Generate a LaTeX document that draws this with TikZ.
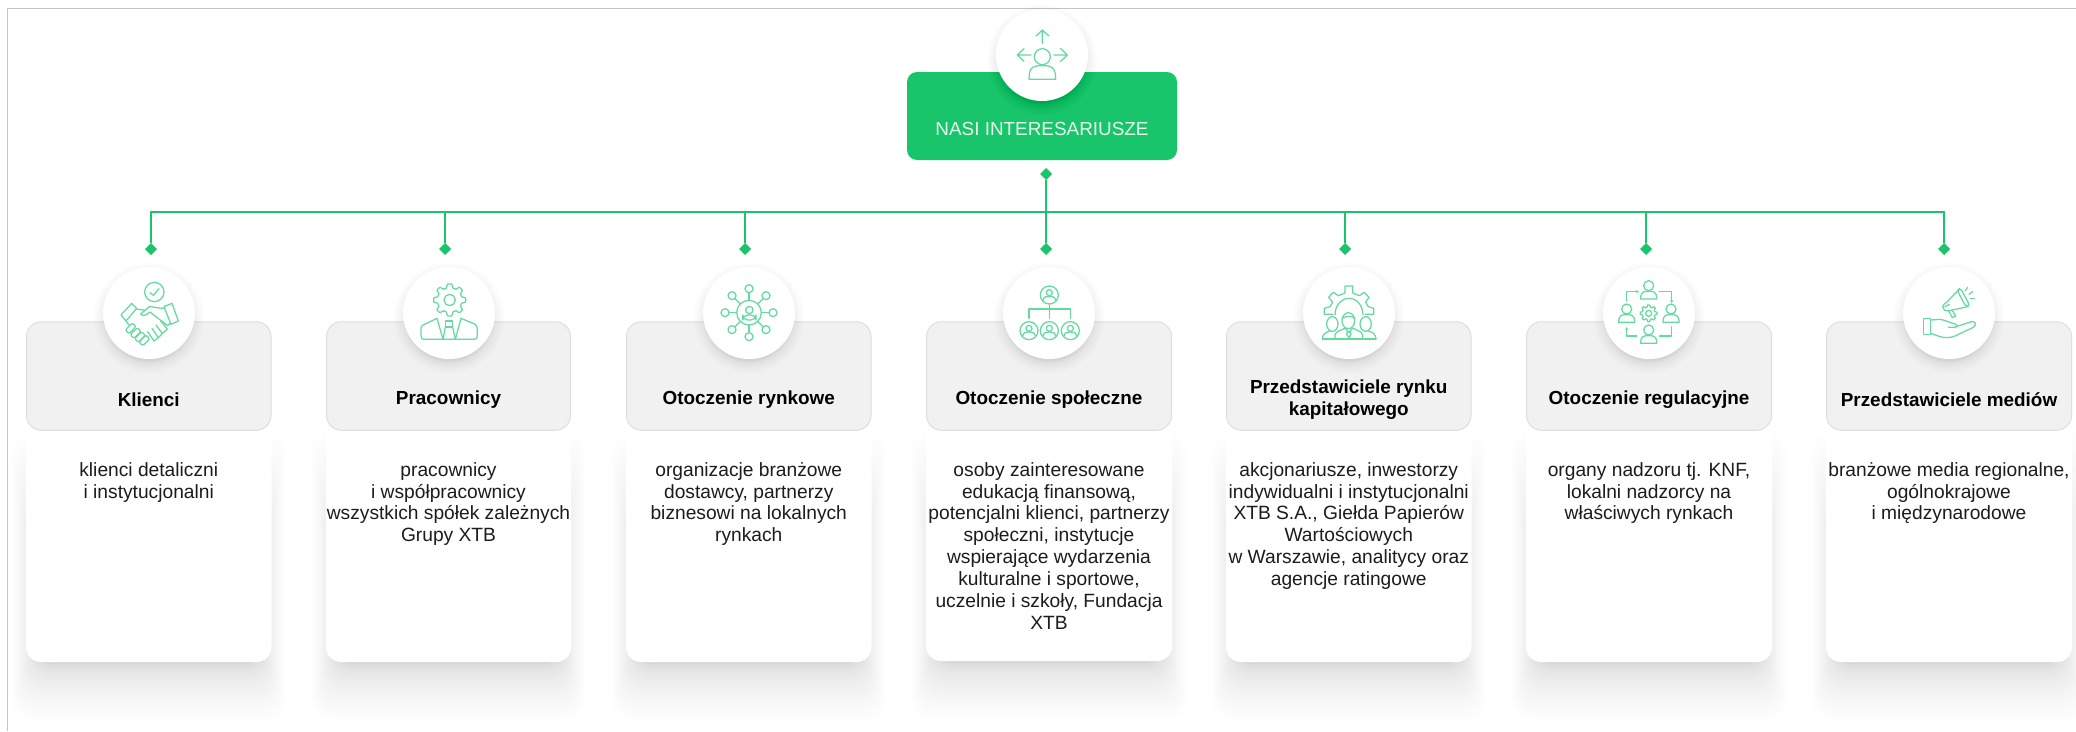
\documentclass[tikz,border=0pt]{standalone}
\usepackage{fontspec}
\setmainfont{Liberation Sans}
\usetikzlibrary{shapes.geometric}
\definecolor{xgreen}{HTML}{19C56A}
\definecolor{xicon}{HTML}{62DB9D}
\definecolor{xhead}{HTML}{F1F1F2}
\definecolor{xedge}{HTML}{DEDEE1}
\definecolor{xframe}{HTML}{C4C4C4}
\definecolor{xtext}{HTML}{1C1C1C}
\tikzset{
  cardbody/.style={fill=white,rounded corners=15pt,inner sep=0,outer sep=0},
  cardhead/.style={fill=xhead,draw=xedge,line width=1pt,rounded corners=15pt,inner sep=0,outer sep=0},
  bodytext/.style={font=\fontsize{19.2}{21.9}\selectfont,text=xtext,align=center,inner sep=0,anchor=north},
  titletext/.style={font=\fontsize{18.9}{22.5}\selectfont\bfseries,text=black,align=center,inner sep=0},
  badge/.style={circle,fill=white,minimum size=92pt,inner sep=0,outer sep=0},
  linkdot/.style={diamond,fill=xgreen,minimum size=12pt,inner sep=0,outer sep=0},
  link/.style={draw=xgreen,line width=1.5pt},
  icon/.style={draw=xicon,line width=1.25pt,line join=round,line cap=round}
}
\newcommand{\cardshadow}[3]{% x1 x2 bottom
  \foreach \k in {0,...,39}{
    \pgfmathsetmacro{\q}{(1-\k/40)*(1-\k/40)}
    \fill[black,opacity=.0042,rounded corners=20pt]
      ({#1-22*\q+8},{430+200*\k/40}) rectangle ({#2+22*\q-8},{#3+2+58*\q});
  }
}
\newcommand{\badgeshadow}[2]{%
  \foreach \k in {0,...,29}{
    \pgfmathsetmacro{\q}{(1-\k/30)*(1-\k/30)}
    \fill[black,opacity=.0042] (#1,{#2+5}) circle[radius={(43+13*\q)*1pt}];
  }
}
% name x1 x2 bottom title-y title body badge-x
\newcommand{\stakecard}[8]{%
  \cardshadow{#2}{#3}{#4}
  \node[cardbody,minimum width={(#3-#2)*1pt},minimum height={(#4-400)*1pt}] (body#1) at ({(#2+#3)/2},{(#4+400)/2}) {};
  \node[cardhead,minimum width={(#3-#2-1)*1pt},minimum height=108.5pt] (head#1) at ({(#2+#3)/2},376) {};
  \node[titletext] (title#1) at ({(#2+#3)/2},#5) {#6};
  \node[bodytext] (text#1) at ({(#2+#3)/2},462) {#7};
  \badgeshadow{#8}{313}
  \node[badge] (badge#1) at (#8,313) {};
}
\newenvironment{iconspace}[1]{\begin{scope}[xshift=#1pt,yshift=-265pt,x=.33333pt,y=-.33333pt,icon]}{\end{scope}}
\newcommand{\bust}[4]{% cx top halfwidth bottom
  \draw ({#1-#3},#4) .. controls ({#1-#3},#2) and ({#1-#3*.6},#2) .. (#1,#2)
    .. controls ({#1+#3*.6},#2) and ({#1+#3},#2) .. ({#1+#3},#4) -- cycle;
}
\newcommand{\gearshape}[5]{% cx cy R r n
  \draw plot[smooth,samples=97,domain=0:360,tension=.3]
    ({#1+(#4+(#3-#4)*max(0,min(1,1.6*cos(#5*\x)+.5)))*cos(\x)},{#2+(#4+(#3-#4)*max(0,min(1,1.6*cos(#5*\x)+.5)))*sin(\x)}) -- cycle;
}
\begin{document}
\begin{tikzpicture}[x=1pt,y=-1pt]
\useasboundingbox (0,0) rectangle (2076,731);
\fill[white] (0,0) rectangle (2076,731);
\draw[xframe,line width=1.2pt] (7.5,731) -- (7.5,8.5) -- (2076,8.5);

% cards
\stakecard{a}{26}{271.5}{662}{399.5}{Klienci}{klienci detaliczni\\i instytucjonalni}{149}
\stakecard{b}{326}{571}{662}{399.5}{Pracownicy}{pracownicy\\i współpracownicy\\wszystkich spółek zależnych\\Grupy XTB}{449}
\stakecard{c}{626}{871.5}{662}{399.5}{Otoczenie rynkowe}{organizacje branżowe\\dostawcy, partnerzy\\biznesowi na lokalnych\\rynkach}{749}
\stakecard{d}{926}{1172}{661}{399.5}{Otoczenie społeczne}{osoby zainteresowane\\edukacją finansową,\\potencjalni klienci, partnerzy\\społeczni, instytucje\\wspierające wydarzenia\\kulturalne i sportowe,\\uczelnie i szkoły, Fundacja\\XTB}{1049}
\stakecard{e}{1226}{1471.5}{662}{399.5}{Przedstawiciele rynku\\kapitałowego}{akcjonariusze, inwestorzy\\indywidualni i instytucjonalni\\XTB S.A., Giełda Papierów\\Wartościowych\\w Warszawie, analitycy oraz\\agencje ratingowe}{1349}
\stakecard{f}{1526}{1772}{662}{399.5}{Otoczenie regulacyjne}{organy nadzoru tj. KNF,\\lokalni nadzorcy na\\właściwych rynkach}{1649}
\stakecard{g}{1826}{2072}{662}{399.5}{Przedstawiciele mediów}{branżowe media regionalne,\\ogólnokrajowe\\i międzynarodowe}{1949}

% root
\node[fill=xgreen,rounded corners=10pt,minimum width=270pt,minimum height=88pt,inner sep=0,outer sep=0] (root) at (1042,116) {};
\node[inner sep=0,text=white!88!xgreen,font=\fontsize{18.9}{22}\selectfont] (rootlabel) at (1042,129) {NASI INTERESARIUSZE};
\badgeshadow{1042}{55}
\node[badge] (rootbadge) at (1042,55) {};

% connectors
\coordinate (bus) at (1046,212);
\node[linkdot] (dtop) at (1046,174) {};
\node[linkdot] (d1) at (151,249) {};
\node[linkdot] (d2) at (445,249) {};
\node[linkdot] (d3) at (745,249) {};
\node[linkdot] (d4) at (1046,249) {};
\node[linkdot] (d5) at (1345,249) {};
\node[linkdot] (d6) at (1646,249) {};
\node[linkdot] (d7) at (1944,249) {};
\draw[link] (dtop) -- (d4);
\draw[link] (d1) -- (d1 |- bus) -- (d7 |- bus) -- (d7);
\draw[link] (d2) -- (d2 |- bus);
\draw[link] (d3) -- (d3 |- bus);
\draw[link] (d5) -- (d5 |- bus);
\draw[link] (d6) -- (d6 |- bus);

% root icon
\begin{scope}[xshift=850pt,x=.33333pt,y=-.33333pt,icon]
  \draw (577,170) circle (24);
  \bust{577}{197}{40}{238}
  \draw (577,130) -- (577,90) (558,108) -- (577,90) -- (597,108);
  \draw (543,165) -- (502,165) (522,146) -- (502,165) -- (522,184);
  \draw (612,165) -- (652,165) (632,146) -- (652,165) -- (632,184);
\end{scope}

% handshake
\begin{iconspace}{90}
  \draw (193,81) circle (29);
  \draw (180,83) -- (190,91) -- (207,71);
  \draw (93,150) -- (125,115) -- (140,130) -- (108,168) -- cycle;
  \draw (222,125) -- (246,115) -- (265,168) -- (243,178) -- cycle;
  \draw (140,132) -- (165,136);
  \draw (222,130) .. controls (205,130) and (190,125) .. (178,125) -- (152,147) .. controls (158,154) and (168,152) .. (180,141) -- (233,182);
  \draw (108,168) -- (117,180);
  \draw (233,182) -- (240,175);
  \foreach \a/\b in {122/190,137/204,150/216,163/226}{
    \draw[rotate around={45:(\a,\b)},rounded corners=2pt] ({\a-15},{\b-8}) rectangle ({\a+15},{\b+8});
  }
  \draw (173,200) -- (192,228) -- (205,218) -- (186,190);
  \draw (205,218) -- (217,206) -- (198,180);
  \draw (217,206) -- (232,192) -- (212,168);
\end{iconspace}

% employee
\begin{iconspace}{390}
  \gearshape{179}{105}{48}{37}{8}
  \draw (179,105) circle (17);
  \draw (141,160) -- (99,180) .. controls (94,183) and (93,186) .. (93,190) -- (93,212) .. controls (93,220) and (96,223) .. (102,223) -- (254,223) .. controls (260,223) and (262,218) .. (262,212) -- (262,190) .. controls (262,186) and (260,181) .. (254,177) -- (213,160);
  \draw (141,160) -- (159,223);
  \draw (213,160) -- (196,223);
  \draw (166,168) rectangle (188,186);
  \draw (166,186) -- (159,223) (188,186) -- (196,223);
\end{iconspace}

% network
\begin{iconspace}{690}
  \draw (177,143) circle (37);
  \draw (178,135) circle (11);
  \draw[rounded corners=5pt] (158,165) rectangle (198,150);
  \foreach \a in {0,45,...,315}{
    \draw ({177+37*cos(\a)},{143+37*sin(\a)}) -- ({177+60*cos(\a)},{143+60*sin(\a)});
    \draw ({177+72*cos(\a)},{143+72*sin(\a)}) circle (12);
  }
\end{iconspace}

% organisation
\begin{iconspace}{990}
  \draw (178,117) -- (178,160);
  \draw (117,160) -- (117,132) -- (241,132) -- (241,160);
  \foreach \a/\b in {178/90,117/197,178/197,241/197}{
    \draw (\a,\b) circle (27);
    \draw (\a,{\b-7}) circle (9);
    \draw ({\a-19},{\b+16}) .. controls ({\a-17},{\b+4}) and ({\a-8},{\b+4}) .. (\a,{\b+4}) .. controls ({\a+8},{\b+4}) and ({\a+17},{\b+4}) .. ({\a+19},{\b+16});
  }
\end{iconspace}

% gear team
\begin{iconspace}{1290}
  \draw (128,148) -- (103,148) -- (103,130) -- (120,125) -- (128,112) -- (116,97) -- (130,82) -- (145,92) -- (165,84) -- (165,63) -- (188,63) -- (188,84) -- (208,92) -- (222,82) -- (237,97) -- (227,112) -- (235,125) -- (251,130) -- (251,148) -- (226,148);
  \draw (135,150) .. controls (135,120) and (155,100) .. (177,100) .. controls (199,100) and (219,120) .. (219,150);
  \draw (175,167) ellipse[x radius=19,y radius=24];
  \draw (157,160) .. controls (170,152) and (182,152) .. (195,160);
  \draw (135,222) -- (135,210) .. controls (137,198) and (155,196) .. (165,189) -- (177,203) -- (188,189) .. controls (198,196) and (216,198) .. (218,210) -- (218,222);
  \draw (97,222) -- (258,222);
  \draw (172,200) -- (170,208) -- (177,218) -- (183,208) -- (181,200);
  \draw (127,177) ellipse[x radius=17,y radius=22];
  \draw (227,177) ellipse[x radius=17,y radius=22];
  \draw (97,222) .. controls (98,208) and (105,202) .. (120,198);
  \draw (258,222) .. controls (257,208) and (250,202) .. (235,198);
\end{iconspace}

% regulatory
\begin{iconspace}{1590}
  \foreach \a/\b in {176/62,110/132,243/132,176/195}{
    \draw (\a,\b) circle (15);
    \bust{\a}{\b+17}{24}{\b+40}
  }
  \gearshape{176}{145}{25}{19}{8}
  \draw (176,145) circle (9);
  \draw (110,108) -- (110,80) -- (143,80);
  \fill[xicon] (147,80) -- (139,75) -- (139,85) -- cycle;
  \draw (207,80) -- (245,80) -- (245,110);
  \fill[xicon] (245,114) -- (240,106) -- (250,106) -- cycle;
  \draw (245,185) -- (245,213) -- (210,213);
  \fill[xicon] (206,213) -- (214,208) -- (214,218) -- cycle;
  \draw (140,213) -- (110,213) -- (110,190);
  \fill[xicon] (110,186) -- (105,194) -- (115,194) -- cycle;
\end{iconspace}

% media
\begin{iconspace}{1890}
  \draw (100,160) rectangle (122,208);
  \draw (122,165) -- (150,163) .. controls (165,165) and (175,172) .. (195,177) .. controls (203,180) and (202,187) .. (195,187) -- (175,187);
  \draw (198,185) -- (245,170) .. controls (256,168) and (261,180) .. (250,187) -- (195,213) .. controls (180,219) and (165,219) .. (150,215) -- (122,205);
  \draw (158,125) .. controls (160,118) and (165,115) .. (170,112) -- (205,75);
  \draw (158,125) .. controls (158,133) and (165,140) .. (178,137) -- (232,125);
  \draw[rotate around={28:(220,98)},rounded corners=3pt] (214,69) rectangle (226,127);
  \draw (176,138) -- (187,158) -- (197,153) -- (186,135);
  \draw (178,118) -- (165,125);
  \draw (225,78) -- (233,67);
  \draw (237,88) -- (248,80);
  \draw (241,101) -- (253,101);
\end{iconspace}
\end{tikzpicture}
\end{document}
